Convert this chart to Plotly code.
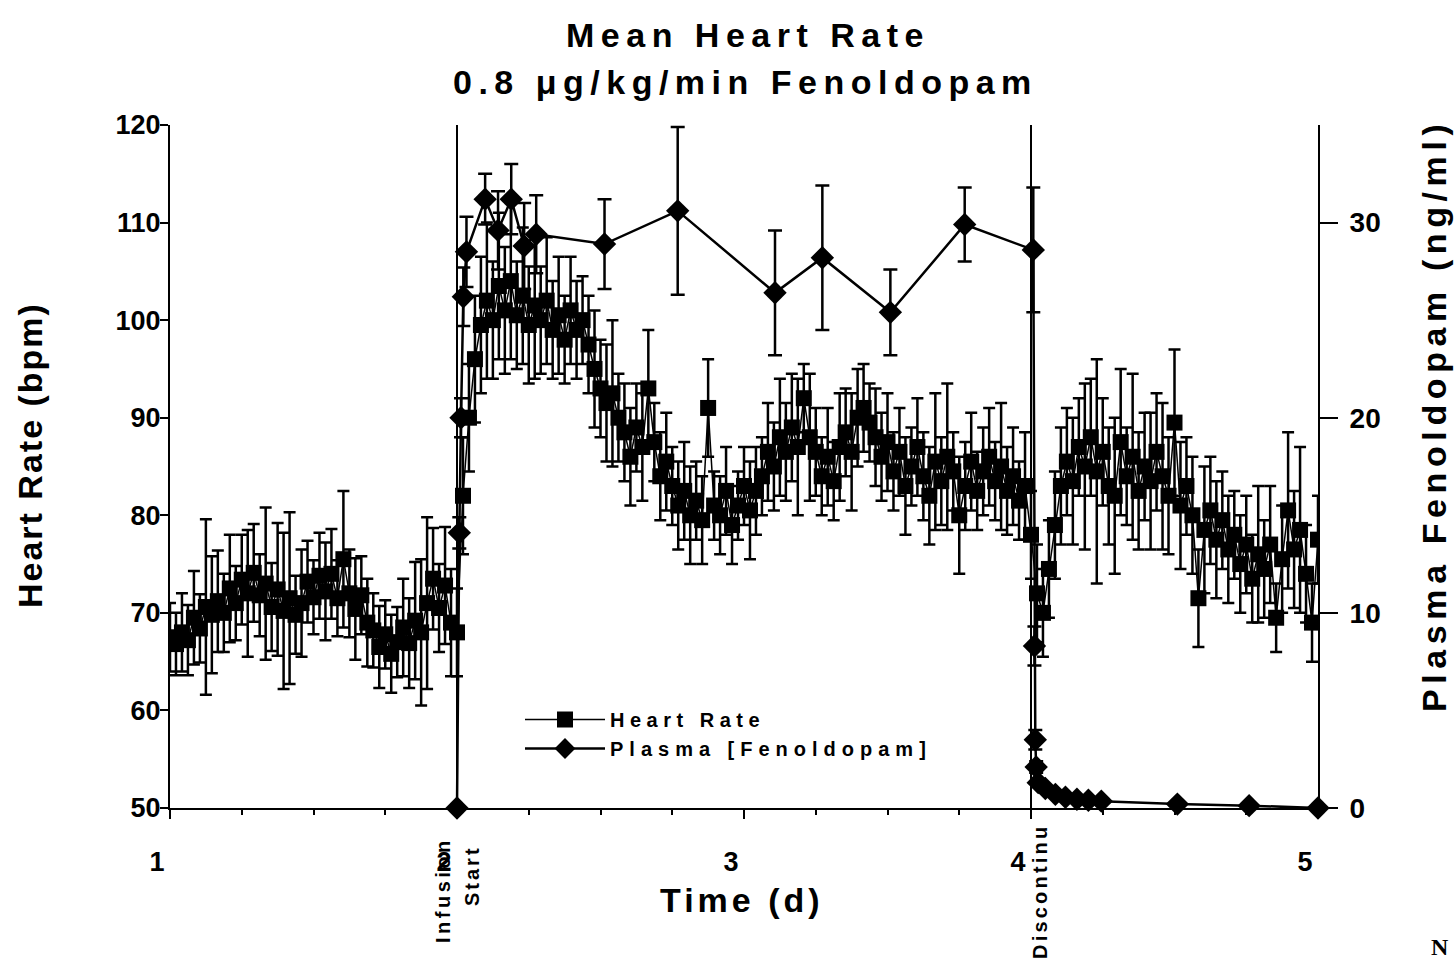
import plotly.graph_objects as go

# ---------------- data ----------------
# Mean heart rate (bpm), half-hourly means from day 1.0 to day 5.0
HR_BPM = [
    # day 1.0 - 2.0 (baseline)
    67.5, 66.8, 68.0, 67.2, 69.5, 68.4, 70.6, 69.8, 71.2, 70.0,
    72.5, 71.0, 73.4, 72.0, 74.1, 71.8, 73.0, 70.6, 72.4, 70.2,
    71.5, 69.8, 71.0, 73.2, 71.6, 73.8, 72.2, 74.0, 71.5, 75.5,
    72.0, 70.4, 71.8, 69.0, 68.2, 66.5, 67.8, 65.8, 67.0, 68.5,
    66.9, 69.2, 68.0, 71.0, 73.5, 70.5, 72.8, 69.0, 68.0,
    # day 2.0 - 3.0 (infusion)
    82.0, 90.0, 96.0, 99.5, 102.0, 100.0, 103.5, 101.0, 104.0, 100.5,
    102.5, 99.5, 101.5, 100.0, 102.0, 99.0, 100.5, 98.0, 101.0, 99.0,
    100.0, 97.5, 95.0, 93.0, 91.5, 92.5, 90.0, 88.5, 86.0, 89.0,
    87.0, 93.0, 87.5, 84.0, 85.5, 83.0, 81.0, 82.5, 80.0, 81.5,
    79.5, 91.0, 81.0, 80.0, 82.5, 79.0, 81.0, 83.0,
    # day 3.0 - 4.0
    80.5, 82.5, 84.0, 86.5, 85.0, 88.0, 86.5, 89.0, 87.0, 92.0,
    88.0, 86.5, 84.0, 86.0, 83.5, 87.0, 88.5, 86.5, 90.0, 91.0,
    89.5, 88.0, 86.0, 87.5, 84.5, 86.5, 83.0, 85.0, 87.0, 84.0,
    82.0, 85.5, 83.5, 86.0, 84.5, 80.0, 83.0, 85.5, 82.5, 84.5,
    86.0, 83.5, 85.0, 82.5, 84.0, 81.5, 83.0, 78.0,
    # day 4.0 - 5.0 (after discontinuation)
    72.0, 70.0, 74.5, 79.0, 83.0, 85.5, 83.5, 87.0, 85.0, 88.0,
    84.5, 86.5, 83.0, 82.0, 87.5, 84.0, 86.0, 82.5, 85.0, 83.5,
    86.5, 84.0, 82.0, 89.5, 81.0, 83.0, 80.0, 71.5, 78.5, 80.5,
    77.5, 79.5, 76.5, 78.0, 75.0, 77.0, 73.5, 76.0, 74.5, 77.0,
    69.5, 75.5, 80.5, 76.5, 78.5, 74.0, 69.0, 77.5,
]
HR_ERR = [
    3.5, 3.2, 4.0, 3.6, 4.8, 3.5, 9.0, 6.0, 5.2, 4.0,
    5.5, 3.8, 4.6, 6.5, 5.0, 4.2, 7.8, 4.5, 6.8, 8.0,
    8.8, 4.0, 5.5, 4.2, 3.8, 4.4, 5.0, 4.6, 3.9, 7.0,
    4.5, 5.2, 4.0, 4.5, 3.8, 4.2, 3.5, 4.0, 3.6, 5.0,
    4.6, 6.0, 7.5, 8.8, 5.2, 4.5, 6.0, 5.5, 4.5,
    6.0, 5.5, 6.5, 7.0, 8.0, 6.0, 7.5, 6.5, 8.0, 5.5,
    7.0, 6.0, 7.5, 5.5, 6.5, 5.0, 6.0, 4.5, 5.5, 5.0,
    4.5, 5.0, 6.0, 5.0, 6.0, 7.5, 4.5, 5.0, 5.0, 4.5,
    5.5, 6.0, 4.0, 4.5, 5.0, 4.0, 4.5, 5.0, 5.0, 4.0,
    4.5, 5.0, 3.5, 4.0, 4.5, 4.0, 3.5, 4.0,
    5.0, 4.5, 4.0, 5.0, 4.5, 6.0, 5.0, 5.5, 7.0, 3.5,
    6.5, 4.5, 4.0, 5.0, 4.0, 5.5, 4.5, 6.0, 5.0, 4.5,
    4.0, 5.0, 4.5, 5.0, 4.0, 4.5, 5.0, 4.0, 5.0, 4.5,
    5.0, 7.0, 4.5, 7.5, 4.0, 6.0, 4.5, 5.0, 4.0, 4.5,
    5.0, 4.0, 6.5, 4.5, 5.0, 4.0, 5.5, 4.5,
    5.0, 4.5, 5.0, 5.5, 6.0, 5.5, 6.5, 5.0, 8.5, 6.0,
    11.5, 5.5, 6.0, 8.0, 7.5, 5.0, 8.5, 6.0, 5.5, 7.0,
    6.0, 7.5, 6.0, 7.5, 6.5, 5.0, 6.0, 5.0, 6.5, 5.5,
    6.0, 5.0, 5.5, 4.5, 5.0, 5.0, 4.5, 7.0, 5.0, 6.0,
    3.5, 5.5, 8.0, 6.0, 8.5, 5.0, 4.0, 4.5,
]
SAMPLES_PER_DAY = 48  # half-hourly means
TIME_D = [1 + k / SAMPLES_PER_DAY for k in range(len(HR_BPM))]

# Plasma fenoldopam (ng/ml)
PLASMA_T = [2.0, 2.008, 2.014, 2.022, 2.033, 2.098, 2.143, 2.189, 2.234, 2.276,
            2.514, 2.769, 3.108, 3.273, 3.51, 3.769, 4.008, 4.012, 4.015, 4.018,
            4.025, 4.05, 4.085, 4.12, 4.16, 4.2, 4.245, 4.51, 4.76, 5.0]
PLASMA_NGML = [0.0, 14.1, 20.0, 26.2, 28.5, 31.2, 29.6, 31.2, 28.8, 29.4,
               28.9, 30.6, 26.4, 28.2, 25.4, 29.9, 28.6, 8.3, 3.5, 2.1,
               1.3, 1.0, 0.7, 0.55, 0.45, 0.4, 0.35, 0.2, 0.12, 0.0]
PLASMA_ERR = [0.0, 0.8, 1.0, 1.5, 1.8, 1.3, 2.0, 1.8, 2.2, 2.0,
              2.3, 4.3, 3.2, 3.7, 2.2, 1.9, 3.2, 1.0, 0.5, 0.3,
              0.2, 0.1, 0.1, 0.1, 0.05, 0.05, 0.05, 0.05, 0.05, 0.0]

INFUSION_START_D = 2.0
DISCONTINUE_D = 4.0

X_TICKS = [1, 2, 3, 4, 5]
X_TICK_LABELS = ["1", "2", "3", "4", "5"]
Y_TICKS = [50, 60, 70, 80, 90, 100, 110, 120]
Y2_TICKS = [0, 10, 20, 30]

# ---------------- layout helpers ----------------
W, H = 1456, 963
ML, MR, MT, MB = 170, 138, 125, 155
PW, PH = W - ML - MR, H - MT - MB
FONT = "Liberation Sans, Arial, Helvetica, sans-serif"


def px_x(px):
    return (px - ML) / PW


def px_y(py):
    return (H - MB - py) / PH


def sp(text, ls):
    return f'<b><span style="letter-spacing:{ls}px">{text}</span></b>'


fig = go.Figure()

fig.add_trace(go.Scatter(
    x=TIME_D, y=HR_BPM, name=sp("Heart Rate", 5.5),
    mode="lines+markers",
    line=dict(color="black", width=1.5),
    marker=dict(symbol="square", size=16, color="black"),
    error_y=dict(type="data", array=HR_ERR, color="black", thickness=2.5, width=6),
))

fig.add_trace(go.Scatter(
    x=PLASMA_T, y=PLASMA_NGML, name=sp("Plasma [Fenoldopam]", 6),
    yaxis="y2", mode="lines+markers", cliponaxis=False,
    line=dict(color="black", width=2.5),
    marker=dict(symbol="diamond", size=18, color="black"),
    error_y=dict(type="data", array=PLASMA_ERR, color="black", thickness=2.5, width=7),
))

for xv in (INFUSION_START_D, DISCONTINUE_D):
    fig.add_vline(x=xv, line=dict(color="black", width=2))

ann = []


def add_text(text, px, py, size, angle=0, family=FONT, xanchor="center", yanchor="middle"):
    ann.append(dict(text=text, x=px_x(px), y=px_y(py), xref="paper", yref="paper",
                    showarrow=False, textangle=angle, xanchor=xanchor, yanchor=yanchor,
                    font=dict(size=size, family=family, color="black", weight="bold")))


add_text(sp("Mean Heart Rate", 6.5), 748, 35, 34)
add_text(sp("0.8 μg/kg/min Fenoldopam", 6.5), 745, 82, 34)
add_text(sp("Heart Rate (bpm)", 2), 30, 455, 34, angle=-90)
add_text(sp("Plasma Fenoldopam (ng/ml)", 5.6), 1434, 416, 34, angle=-90)
add_text(sp("Time (d)", 4), 742, 900, 34)
add_text(sp("Infusion", 3.5), 443, 890, 20, angle=-90)
add_text(sp("Start", 3), 472, 876, 20, angle=-90)
add_text(sp("Discontinu", 3.2), 1040, 892, 20, angle=-90)
add_text("<b>N</b>", 1440, 962, 24, family="Liberation Serif, serif", yanchor="bottom")

axis_common = dict(showgrid=False, zeroline=False, showline=True, linecolor="black",
                   linewidth=2, ticks="outside", tickcolor="black", tickwidth=2)

fig.update_layout(
    width=W, height=H, autosize=False,
    margin=dict(l=ML, r=MR, t=MT, b=MB, pad=0),
    paper_bgcolor="white", plot_bgcolor="white",
    font=dict(family=FONT, color="black", weight="bold", size=20),
    showlegend=True,
    legend=dict(x=px_x(520), y=px_y(700), xanchor="left", yanchor="top",
                bgcolor="rgba(0,0,0,0)",
                font=dict(size=20, family=FONT, color="black", weight="bold"),
                itemwidth=80, tracegroupgap=0),
    xaxis=dict(range=[1, 5], tickvals=X_TICKS, ticktext=X_TICK_LABELS, ticklen=9,
               tickfont=dict(size=27, weight="bold"), ticklabelshift=-13,
               ticklabelstandoff=20,
               minor=dict(dtick=0.25, tick0=1, ticks="outside", ticklen=5,
                          tickwidth=1.5, tickcolor="black", showgrid=False),
               **axis_common),
    yaxis=dict(range=[50, 120], tickvals=Y_TICKS, ticklen=8, ticklabelstandoff=-6,
               tickfont=dict(size=27, weight="bold"), **axis_common),
    yaxis2=dict(range=[0, 35], overlaying="y", side="right", tickvals=Y2_TICKS,
                ticklen=18, tickfont=dict(size=28, weight="bold"), ticklabelstandoff=6,
                **axis_common),
    annotations=ann,
)

fig.write_html("out.html")
